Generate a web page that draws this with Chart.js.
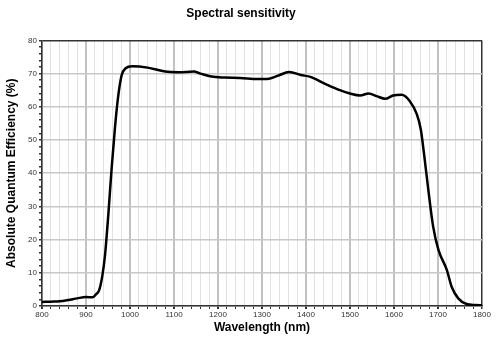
<!DOCTYPE html>
<html>
<head>
<meta charset="utf-8">
<script src="https://cdn.jsdelivr.net/npm/chart.js@4.4.1/dist/chart.umd.min.js"></script>
<style>
  html, body { margin: 0; padding: 0; background: #fff; }
  #wrap { width: 499px; height: 351px; }
</style>
</head>
<body>
<div id="wrap"><canvas id="qeChart" width="499" height="351"></canvas></div>
<script>
// Spectral sensitivity
const wavelengths = [800, 820, 840, 860, 880, 900, 915, 922, 930, 937, 943, 951, 958, 966, 973, 981, 990, 1005, 1040, 1080, 1110, 1145, 1160, 1185, 1215, 1250, 1290, 1312, 1335, 1362, 1388, 1410, 1447, 1477, 1500, 1523, 1542, 1561, 1580, 1598, 1617, 1636, 1652, 1661, 1668, 1678, 1689, 1701, 1720, 1731, 1746, 1765, 1785, 1800];
const efficiency = [1.2, 1.3, 1.4, 1.8, 2.3, 2.7, 2.6, 3.4, 4.8, 9, 15, 28, 41, 54, 63, 69.5, 71.6, 72.2, 71.8, 70.6, 70.4, 70.6, 70.0, 69.1, 68.8, 68.7, 68.4, 68.4, 69.3, 70.5, 69.6, 69.0, 66.7, 65.0, 64.0, 63.4, 64.0, 63.2, 62.4, 63.4, 63.6, 61.7, 57.7, 53.1, 46.1, 35.0, 23.9, 16.9, 10.9, 5.8, 2.3, 0.6, 0.3, 0.2];

const xRange = [800, 1800];
const yRange = [0, 80];

const points = wavelengths.map((w, i) => ({ x: w, y: efficiency[i] }));

new Chart(document.getElementById("qeChart"), {
  type: "line",
  data: {
    datasets: [
      {
        data: points,
        borderColor: "#000",
        borderWidth: 2.5,
        pointRadius: 0,
        fill: false,
        cubicInterpolationMode: "monotone",
      },
    ],
  },
  options: {
    responsive: false,
    animation: false,
    layout: { padding: { top: 6, right: 17, left: 0, bottom: 0 } },
    plugins: {
      legend: { display: false },
      tooltip: { enabled: false },
      title: {
        display: true,
        text: "Spectral sensitivity",
        color: "#000",
        font: { family: "Liberation Sans, Arial", size: 12, weight: "bold" },
        padding: { top: 0, bottom: 20 },
      },
    },
    scales: {
      x: {
        type: "linear",
        min: xRange[0],
        max: xRange[1],
        afterFit: (s) => { s.height = 45; },
        ticks: {
          stepSize: 20,
          autoSkip: false,
          maxRotation: 0,
          padding: 1,
          color: "#333",
          font: { family: "Liberation Sans, Arial", size: 8 },
          callback: (v) => (v % 100 === 0 ? v : ""),
        },
        grid: {
          color: (c) => {
            const v = c.tick.value;
            if (v === xRange[1]) return "#333";
            return v % 100 === 0 ? "#c2c2c2" : "#e2e2e2";
          },
          lineWidth: (c) => {
            const v = c.tick.value;
            if (v === xRange[1]) return 1.5;
            return v % 100 === 0 ? 2 : 1;
          },
          tickColor: "#333",
          tickLength: 3,
          drawTicks: true,
        },
        border: { color: "#333", width: 1.5 },
        title: {
          display: true,
          text: "Wavelength (nm)",
          color: "#000",
          font: { family: "Liberation Sans, Arial", size: 12, weight: "bold" },
          padding: { top: 8, bottom: 16 },
        },
      },
      y: {
        min: yRange[0],
        max: yRange[1],
        afterFit: (s) => { s.width = 42; },
        ticks: {
          stepSize: 2,
          autoSkip: false,
          padding: 2,
          color: "#333",
          font: { family: "Liberation Sans, Arial", size: 8 },
          callback: (v) => (v % 10 === 0 ? v : ""),
        },
        grid: {
          color: (c) => {
            const v = c.tick.value;
            if (v === yRange[1]) return "#333";
            return v % 10 === 0 ? "#c8c8c8" : "rgba(0,0,0,0)";
          },
          lineWidth: 1.5,
          tickColor: "#333",
          tickLength: 3,
        },
        border: { color: "#333", width: 1.5 },
        title: {
          display: true,
          text: "Absolute Quantum Efficiency (%)",
          color: "#000",
          font: { family: "Liberation Sans, Arial", size: 12, weight: "bold" },
          padding: { bottom: 4 },
        },
      },
    },
  },
});
</script>
</body>
</html>
